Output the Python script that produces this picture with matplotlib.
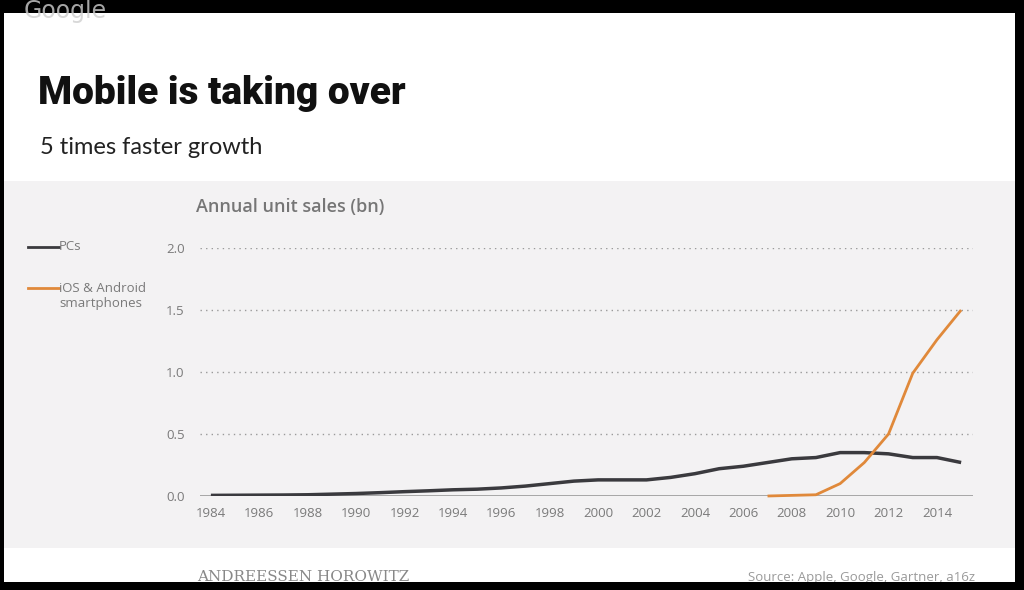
import matplotlib
matplotlib.use("Agg")
import matplotlib.pyplot as plt
from matplotlib.patches import Rectangle
from matplotlib.lines import Line2D

# ---- data ----
pc_years = list(range(1984, 2016))
pc_sales = [0.005, 0.006, 0.007, 0.008, 0.01, 0.015, 0.02, 0.027, 0.035, 0.042,
            0.05, 0.055, 0.065, 0.08, 0.10, 0.12, 0.13, 0.13, 0.13, 0.15,
            0.18, 0.22, 0.24, 0.27, 0.30, 0.31, 0.35, 0.35, 0.34, 0.31,
            0.31, 0.27]
phone_years = list(range(2007, 2016))
phone_sales = [0.0, 0.005, 0.01, 0.10, 0.27, 0.50, 0.99, 1.26, 1.50]
y_ticks = [0.0, 0.5, 1.0, 1.5, 2.0]
x_ticks = list(range(1984, 2016, 2))

W, H = 1024, 590
fig = plt.figure(figsize=(W / 100, H / 100), dpi=100)
fig.patch.set_facecolor("black")

def fx(px):
    return px / W

def fy(py):
    return 1 - py / H

# slide background
fig.patches.append(Rectangle((fx(4), fy(582)), fx(1015 - 4), (582 - 13) / H,
                             transform=fig.transFigure, facecolor="white",
                             edgecolor="none", zorder=0))
# grey chart band
fig.patches.append(Rectangle((fx(4), fy(548)), fx(1015 - 4), (548 - 181) / H,
                             transform=fig.transFigure, facecolor="#f3f2f3",
                             edgecolor="none", zorder=0.5))

# "Google" overlay text
fig.text(fx(24), fy(11), "Google", fontsize=17, color="#cfcfcf",
         family="DejaVu Sans", va="center", ha="left", alpha=0.8, zorder=11)

# Title & subtitle
fig.text(fx(38), fy(94), "Mobile is taking over", fontsize=28, fontweight="heavy",
         family=["Roboto", "DejaVu Sans"],
         color="#111111", va="center", ha="left", zorder=3)
fig.text(fx(40), fy(147), "5 times faster growth", fontsize=17, family="Lato",
         color="#222222", va="center", ha="left", zorder=3)

# Chart axes
ax = fig.add_axes([fx(200), fy(496), fx(973 - 200), (496 - 248) / H])
ax.set_zorder(2)
ax.set_facecolor("none")
ax.set_xlim(1983.55, 2015.49)
ax.set_ylim(0, 2.0)

for v in y_ticks[1:]:
    ax.axhline(v, color="#9a9a9a", linestyle=(0, (1, 3)), linewidth=1.0, zorder=1)
ax.axhline(0, color="#9a9a9a", linewidth=1.2, zorder=1)

ax.plot(pc_years, pc_sales, color="#3a3a3e", linewidth=2.5, zorder=3,
        solid_capstyle="butt")
ax.plot(phone_years, phone_sales, color="#e0893a", linewidth=2.0, zorder=4,
        solid_capstyle="butt", clip_on=False)

for s in ax.spines.values():
    s.set_visible(False)
ax.set_yticks(y_ticks)
ax.set_yticklabels([f"{v:.1f}" for v in y_ticks])
ax.set_xticks(x_ticks)
ax.set_xticklabels([str(x) for x in x_ticks])
ax.tick_params(axis="both", length=0, labelcolor="#7a7a7a", labelsize=9.5)
ax.tick_params(axis="y", pad=11)
ax.tick_params(axis="x", pad=8)
for lab in ax.get_xticklabels() + ax.get_yticklabels():
    lab.set_family("Open Sans")

# axis title
fig.text(fx(196), fy(207), "Annual unit sales (bn)", fontsize=13, family="Open Sans",
         fontweight="semibold", color="#767676", va="center", ha="left", zorder=3)

# legend
fig.lines.append(Line2D([fx(28), fx(59)], [fy(247), fy(247)], transform=fig.transFigure,
                        color="#3a3a3e", linewidth=2, zorder=3))
fig.text(fx(59), fy(247), "PCs", fontsize=9.5, family="Open Sans", color="#7a7a7a",
         va="center", ha="left", zorder=3)
fig.lines.append(Line2D([fx(28), fx(59)], [fy(288), fy(288)], transform=fig.transFigure,
                        color="#e0893a", linewidth=2, zorder=3))
fig.text(fx(59), fy(288), "iOS & Android", fontsize=9.5, family="Open Sans",
         color="#7a7a7a", va="center", ha="left", zorder=3)
fig.text(fx(59), fy(304), "smartphones", fontsize=9.5, family="Open Sans",
         color="#7a7a7a", va="center", ha="left", zorder=3)

# footer
fig.text(fx(197), fy(577), "ANDREESSEN HOROWITZ", fontsize=11, family="DejaVu Serif",
         color="#888888", va="center", ha="left", zorder=3)
fig.text(fx(975), fy(577), "Source: Apple, Google, Gartner, a16z", fontsize=9.5,
         family="Open Sans", color="#9a9a9a", va="center", ha="right", zorder=3)

# bottom black border drawn over footer text (clipped look)
fig.patches.append(Rectangle((0, 0), 1, 8 / H, transform=fig.transFigure,
                             facecolor="black", edgecolor="none", zorder=10))

fig.savefig("out.png", dpi=100, facecolor=fig.get_facecolor())
